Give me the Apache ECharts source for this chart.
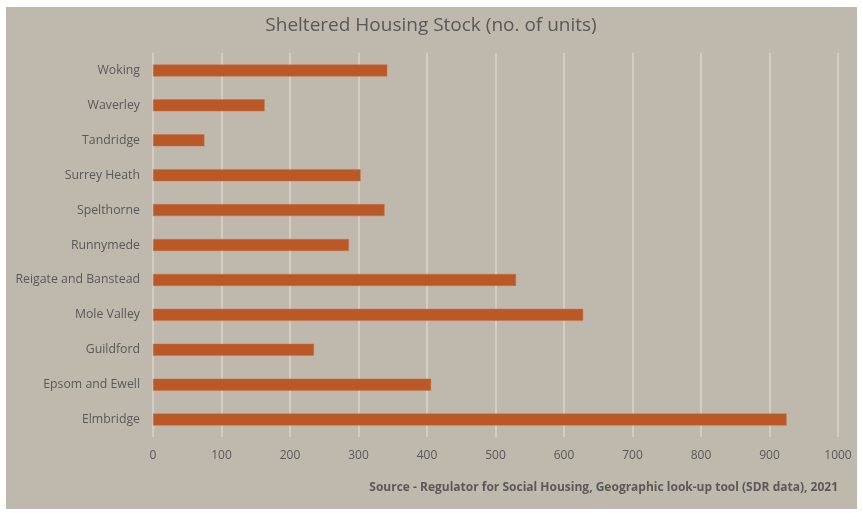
<!DOCTYPE html>
<html>
<head>
<meta charset="utf-8">
<script src="https://cdn.jsdelivr.net/npm/echarts@6/dist/echarts.min.js"></script>
<style>
  html, body { margin: 0; padding: 0; background: #fff; }
  #chart { width: 862px; height: 513px; }
</style>
</head>
<body>
<div id="chart"></div>
<script>
// districts, bottom to top as drawn
var districts = ['Elmbridge', 'Epsom and Ewell', 'Guildford', 'Mole Valley', 'Reigate and Banstead',
  'Runnymede', 'Spelthorne', 'Surrey Heath', 'Tandridge', 'Waverley', 'Woking']
var units = [925, 406, 235, 628, 530, 286, 338, 303, 75, 163, 342]
var xTicks = [0, 100, 200, 300, 400, 500, 600, 700, 800, 900, 1000]

var textColor = '#595959'
var chart = echarts.init(document.getElementById('chart'))
var option = {
  backgroundColor: '#ffffff',
  textStyle: { fontFamily: 'Open Sans' },
  graphic: [{
    type: 'rect',
    z: -10,
    silent: true,
    shape: { x: 6, y: 7, width: 851, height: 502 },
    style: { fill: '#BFB8AD' }
  }, {
    type: 'text',
    right: 24,
    top: 482,
    style: {
      text: 'Source - Regulator for Social Housing, Geographic look-up tool (SDR data), 2021',
      fill: textColor,
      font: 'bold 12px "Open Sans"'
    }
  }],
  title: {
    text: 'Sheltered Housing Stock (no. of units)',
    left: 'center',
    top: 11,
    textStyle: { color: textColor, fontSize: 19, fontWeight: 'normal', fontFamily: 'Open Sans' }
  },
  grid: { left: 153, right: 24, top: 53, bottom: 76, containLabel: false },
  xAxis: {
    type: 'value',
    min: xTicks[0],
    max: xTicks[xTicks.length - 1],
    interval: 100,
    axisLine: { show: false },
    axisTick: { show: false },
    axisLabel: { color: textColor, fontSize: 12, margin: 13, formatter: function (v) { return String(v) } },
    splitLine: { lineStyle: { color: '#DAD5CD', width: 1.5 } }
  },
  yAxis: {
    type: 'category',
    data: districts,
    axisLine: { show: false },
    axisTick: { show: false },
    axisLabel: { color: textColor, fontSize: 12.3, margin: 13 }
  },
  series: [{
    type: 'bar',
    data: units,
    barWidth: 12,
    itemStyle: { color: '#BA5826', borderColor: '#C57650', borderWidth: 0.5 }
  }]
}
chart.setOption(option)
</script>
</body>
</html>
